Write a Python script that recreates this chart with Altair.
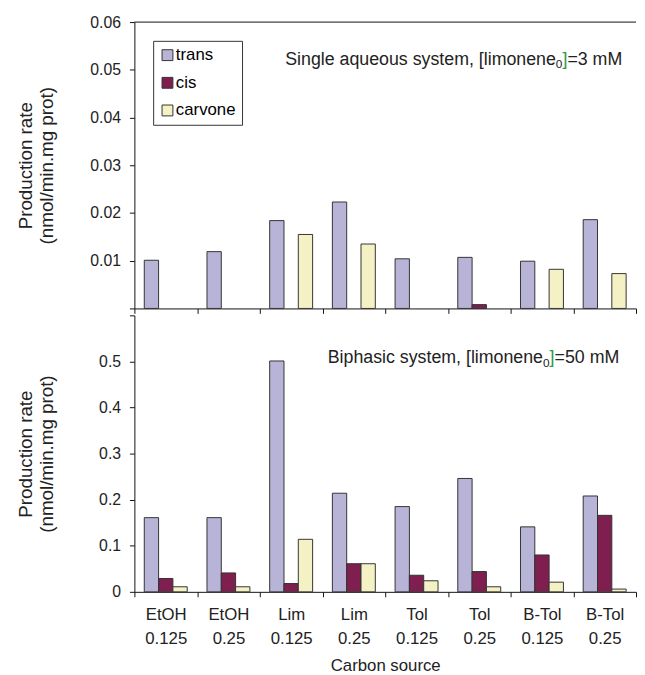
import altair as alt
import pandas as pd

categories = ["EtOH 0.125", "EtOH 0.25", "Lim 0.125", "Lim 0.25",
              "Tol 0.125", "Tol 0.25", "B-Tol 0.125", "B-Tol 0.25"]
series = ["trans", "cis", "carvone"]
colors = ["#b8b4d8", "#7e1f50", "#f4f2c4"]

single_trans = [0.0101, 0.0119, 0.0184, 0.0223, 0.0104, 0.0107, 0.0099, 0.0186]
single_cis = [None, None, None, None, None, 0.0008, None, None]
single_carvone = [None, None, 0.0155, 0.0135, None, None, 0.0082, 0.0073]

biphasic_trans = [0.161, 0.161, 0.501, 0.214, 0.185, 0.246, 0.141, 0.208]
biphasic_cis = [0.029, 0.041, 0.018, 0.061, 0.036, 0.044, 0.080, 0.166]
biphasic_carvone = [0.011, 0.011, 0.114, 0.061, 0.024, 0.011, 0.021, 0.006]

top_ticks = [0, 0.01, 0.02, 0.03, 0.04, 0.05, 0.06]
bottom_ticks = [0, 0.1, 0.2, 0.3, 0.4, 0.5, 0.6]

FONT = "Liberation Sans"
W = 508
H_TOP = 290
H_BOT = 280
ANN = 18


def table(trans, cis, carvone):
    rows = []
    for i, c in enumerate(categories):
        for s, vals in zip(series, [trans, cis, carvone]):
            if vals[i] is not None:
                rows.append({"category": c, "series": s, "value": vals[i]})
    return pd.DataFrame(rows)


def bars(df, ymax, ticks, h, label_expr, bottom, legend):
    if bottom:
        xaxis = alt.Axis(labelExpr="split(datum.label, ' ')", labelAngle=0,
                         labelFontSize=17, labelLineHeight=24, labelPadding=10,
                         title="Carbon source", titleFontSize=17, titlePadding=12,
                         tickBand="extent", tickSize=5)
    else:
        xaxis = alt.Axis(labels=False, title=None, tickBand="extent", tickSize=5)
    return alt.Chart(df).mark_bar(stroke="#333333", strokeWidth=1).encode(
        x=alt.X("category:N", sort=categories,
                scale=alt.Scale(paddingInner=0, paddingOuter=0), axis=xaxis),
        xOffset=alt.XOffset("series:N", sort=series,
                            scale=alt.Scale(paddingInner=0, paddingOuter=0.69)),
        y=alt.Y("value:Q", scale=alt.Scale(domain=[0, ymax], nice=False),
                axis=alt.Axis(values=ticks, labelExpr=label_expr, grid=False,
                              labelFontSize=16, tickSize=5, labelPadding=9,
                              title=["Production rate", "(nmol/min.mg prot)"],
                              titleFontSize=19, titleLineHeight=21,
                              titleX=-100, titleY=h / 2)),
        color=alt.Color("series:N", sort=series,
                        scale=alt.Scale(domain=series, range=colors),
                        legend=legend),
    )


def label_pieces(main, tail, right, base_y):
    w_tail = sum({"=": 0.584, "3": 0.556, "5": 0.556, "0": 0.556, " ": 0.278,
                  "m": 0.833, "M": 0.833}[ch] for ch in tail) * ANN
    w_br = 0.278 * ANN
    w_sub = 0.556 * 12
    df = pd.DataFrame({"k": [0]})
    common = dict(font=FONT, baseline="alphabetic", color="#222222")
    t_tail = alt.Chart(df).mark_text(text=tail, fontSize=ANN, align="right", **common).encode(
        x=alt.value(right), y=alt.value(base_y))
    t_br = alt.Chart(df).mark_text(text="]", fontSize=ANN, align="right", font=FONT,
                                   baseline="alphabetic", color="#2e9a46").encode(
        x=alt.value(right - w_tail), y=alt.value(base_y))
    t_sub = alt.Chart(df).mark_text(text="0", fontSize=12, align="right", **common).encode(
        x=alt.value(right - w_tail - w_br), y=alt.value(base_y + 4))
    t_main = alt.Chart(df).mark_text(text=main, fontSize=ANN, align="right", **common).encode(
        x=alt.value(right - w_tail - w_br - w_sub), y=alt.value(base_y))
    return [t_main, t_sub, t_br, t_tail]


top_df = table(single_trans, single_cis, single_carvone)
bot_df = table(biphasic_trans, biphasic_cis, biphasic_carvone)

legend = alt.Legend(orient="none", legendX=19, legendY=19, title=None,
                    strokeColor="#333333", fillColor="white", padding=6,
                    symbolType="square", symbolSize=121, symbolStrokeColor="#333333",
                    symbolStrokeWidth=1, labelFontSize=17, labelFont=FONT,
                    rowPadding=10, labelOffset=0)

top_rule = alt.Chart(pd.DataFrame({"k": [0]})).mark_rule(color="#111111").encode(
    x=alt.value(0), x2=alt.value(W), y=alt.value(0))

top = alt.layer(
    bars(top_df, 0.06, top_ticks, H_TOP,
         "datum.value < 0.005 ? '' : format(datum.value, '.2f')", False, legend),
    top_rule,
    *label_pieces("Single aqueous system, [limonene", "=3 mM", 494, 43),
).properties(width=W, height=H_TOP)

bottom = alt.layer(
    bars(bot_df, 0.6, bottom_ticks, H_BOT,
         "datum.value > 0.55 ? '' : (datum.value == 0 ? '0' : format(datum.value, '.1f'))",
         True, None),
    *label_pieces("Biphasic system, [limonene", "=50 mM", 491, 48),
).properties(width=W, height=H_BOT)

chart = alt.vconcat(top, bottom, spacing=0).resolve_scale(
    color="independent", x="independent", y="independent"
).resolve_legend(color="independent").properties(
    padding={"left": 8, "top": 2, "right": 0, "bottom": 0}
).configure_view(stroke=None).configure_axis(
    domainColor="#111111", tickColor="#111111", labelColor="#222222",
    titleColor="#222222", labelFont=FONT, titleFont=FONT, titleFontWeight="normal"
).configure_text(font=FONT)

chart.save("out.html", embed_options={"renderer": "svg", "actions": False})
